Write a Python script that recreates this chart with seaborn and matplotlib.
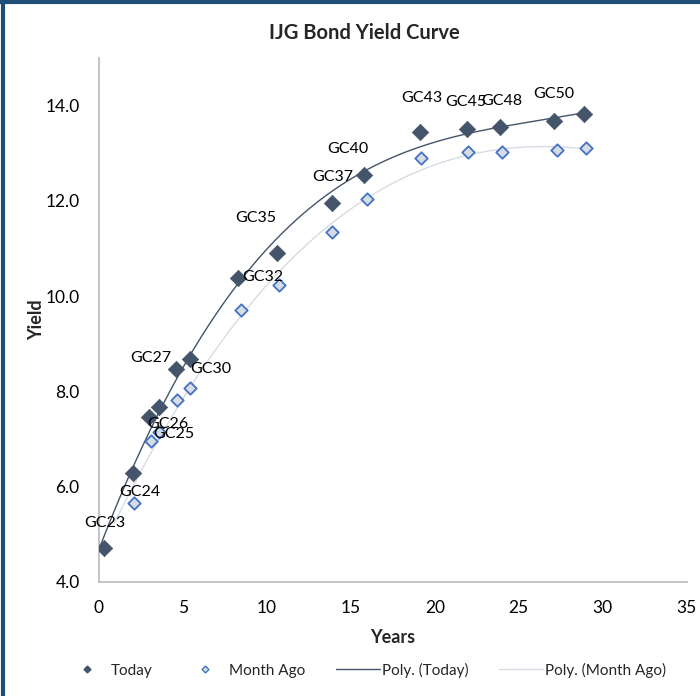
import numpy as np
import pandas as pd
import seaborn as sns
import matplotlib.pyplot as plt
from matplotlib.lines import Line2D

# Today yields by years to maturity
x_today = [0.3, 2.0, 3.0, 3.6, 4.6, 5.4, 8.3, 10.6, 13.9, 15.8, 19.1, 21.9, 23.9, 27.1, 28.9]
y_today = [4.71, 6.28, 7.47, 7.68, 8.48, 8.69, 10.38, 10.90, 11.95, 12.54, 13.44, 13.50, 13.56, 13.67, 13.83]
bond_labels = ['GC23', 'GC24', 'GC25', 'GC26', 'GC27', 'GC30', 'GC32', 'GC35',
               'GC37', 'GC40', 'GC43', 'GC45', 'GC48', 'GC50', '']

# Month ago yields
x_month = [2.1, 3.1, 3.6, 4.65, 5.4, 8.45, 10.7, 13.9, 15.95, 19.2, 22.0, 24.0, 27.3, 29.0]
y_month = [5.65, 6.97, 7.14, 7.83, 8.08, 9.71, 10.23, 11.34, 12.05, 12.89, 13.03, 13.03, 13.06, 13.12]

df_today = pd.DataFrame({'years': x_today, 'yield': y_today, 'bond': bond_labels})
df_month = pd.DataFrame({'years': x_month, 'yield': y_month})

# label offsets in pixels (dx, dy)
label_offsets = [(1, 25), (7, -19), (24, -17), (8, -17), (-25, 11), (21, -10), (24, 1),
                 (-21, 35), (0, 26), (-16, 26), (2, 34), (-1, 27), (2, 26), (0, 27), (0, 0)]

sns.set_style("white")
plt.rcParams['font.family'] = ['Lato', 'DejaVu Sans']

c_today = '#44546A'
c_month = '#4472C4'
c_month_fill = '#D6DCE5'
c_trend_m = '#D6DCE5'

fig = plt.figure(figsize=(7, 6.96), dpi=100)
ax = fig.add_axes([0.1414, 0.1638, 0.981 - 0.1414, 0.9167 - 0.1638])

# polynomial trendlines
p_today = np.polyfit(df_today['years'], df_today['yield'], 3)
p_month = np.polyfit(df_month['years'], df_month['yield'], 3)
xt = np.linspace(0, df_today['years'].max(), 200)
xm = np.linspace(df_month['years'].min() - 1.2, df_month['years'].max(), 200)
ax.plot(xm, np.polyval(p_month, xm), color=c_trend_m, lw=1.0, zorder=1)
ax.plot(xt, np.polyval(p_today, xt), color=c_today, lw=1.0, zorder=1)

sns.scatterplot(data=df_month, x='years', y='yield', ax=ax, marker='D', s=40,
                color=c_month_fill, edgecolor=c_month, linewidth=1.3, zorder=3)
sns.scatterplot(data=df_today, x='years', y='yield', ax=ax, marker='D', s=70,
                color=c_today, edgecolor=c_today, linewidth=0.5, zorder=4)

for (_, r), (dx, dy) in zip(df_today.iterrows(), label_offsets):
    if r['bond']:
        ax.annotate(r['bond'], (r['years'], r['yield']), xytext=(dx, dy),
                    textcoords='offset pixels', ha='center', va='center',
                    fontsize=11.5, color='#000000', zorder=5)

ax.set_xlim(0, 35)
ax.set_ylim(4, 15)
ax.set_xticks(range(0, 36, 5))
ax.set_yticks([4, 6, 8, 10, 12, 14])
ax.set_yticklabels([f'{v:.1f}' for v in [4, 6, 8, 10, 12, 14]])
ax.tick_params(axis='both', labelsize=12.5, length=0, colors='#000000')
ax.tick_params(axis='x', pad=13)
ax.tick_params(axis='y', pad=14)
for s in ['top', 'right']:
    ax.spines[s].set_visible(False)
for s in ['left', 'bottom']:
    ax.spines[s].set_color('#BFBFBF')
    ax.spines[s].set_linewidth(1.3)

ax.set_xlabel('Years', fontsize=13, fontweight='bold', labelpad=9)
ax.set_ylabel('Yield', fontsize=13, fontweight='bold', labelpad=0)
fig.text(0.52, 0.952, 'IJG Bond Yield Curve', ha='center', va='center',
         fontsize=14.5, fontweight='bold')

handles = [
    Line2D([], [], ls='none', marker='D', ms=3.5, color=c_today),
    Line2D([], [], ls='none', marker='D', ms=3.5, markerfacecolor=c_month_fill,
           markeredgecolor=c_month, markeredgewidth=1),
    Line2D([], [], color=c_today, lw=1.0),
    Line2D([], [], color=c_trend_m, lw=1.0),
]
fig.legend(handles, ['Today', 'Month Ago', 'Poly. (Today)', 'Poly. (Month Ago)'],
           loc='center', bbox_to_anchor=(0.522, 0.037), ncol=4, frameon=False,
           fontsize=11, handlelength=2.9, columnspacing=2.0, handletextpad=0.1)

# dark blue border of the chart area (left and top)
fig.add_artist(Line2D([0.004, 0.004], [0, 1], transform=fig.transFigure,
                      color='#1F4E79', lw=3))
fig.add_artist(Line2D([0, 1], [0.997, 0.997], transform=fig.transFigure,
                      color='#1F4E79', lw=3))

fig.savefig('out.png', dpi=100)
